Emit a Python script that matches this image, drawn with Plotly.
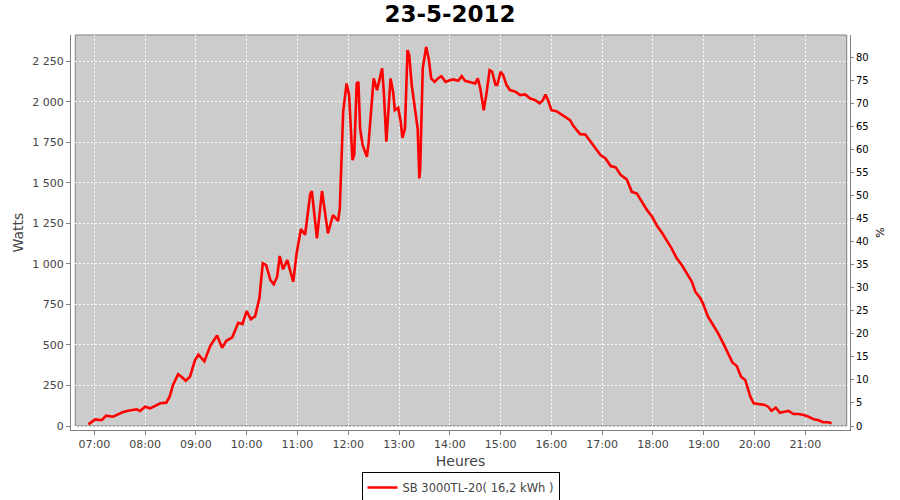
import plotly.graph_objects as go

day = "2012-05-23 "

times = [
    "06:53", "07:01", "07:05", "07:09", "07:14", "07:19", "07:22", "07:28", "07:34", "07:40",
    "07:46", "07:50", "07:54", "08:00", "08:06", "08:12", "08:18", "08:25", "08:29", "08:33",
    "08:39", "08:43", "08:48", "08:53", "08:59", "09:03", "09:10", "09:17", "09:25", "09:31",
    "09:36", "09:43", "09:50", "09:55", "10:00", "10:05", "10:10", "10:15", "10:19", "10:23",
    "10:28", "10:32", "10:36", "10:39", "10:43", "10:48", "10:55", "10:59", "11:04", "11:09",
    "11:15", "11:17", "11:23", "11:29", "11:36", "11:42", "11:48", "11:50", "11:54", "11:58",
    "12:01", "12:05", "12:07", "12:10", "12:12", "12:14", "12:17", "12:22", "12:24", "12:30",
    "12:34", "12:40", "12:42", "12:45", "12:50", "12:53", "12:55", "12:59", "13:02", "13:04",
    "13:07", "13:10", "13:12", "13:15", "13:20", "13:22", "13:24", "13:25", "13:28", "13:32",
    "13:35", "13:38", "13:42", "13:46", "13:50", "13:55", "14:00", "14:04", "14:10", "14:14",
    "14:18", "14:24", "14:30", "14:33", "14:36", "14:40", "14:43", "14:47", "14:50", "14:54",
    "14:56", "15:00", "15:03", "15:07", "15:11", "15:18", "15:23", "15:29", "15:35", "15:41",
    "15:46", "15:50", "15:53", "15:56", "16:00", "16:06", "16:10", "16:16", "16:22", "16:26",
    "16:34", "16:40", "16:46", "16:52", "16:58", "17:04", "17:10", "17:16", "17:22", "17:29",
    "17:35", "17:41", "17:47", "17:53", "17:59", "18:05", "18:11", "18:17", "18:22", "18:28",
    "18:34", "18:40", "18:46", "18:50", "18:56", "18:59", "19:05", "19:11", "19:17", "19:23",
    "19:29", "19:34", "19:39", "19:44", "19:49", "19:51", "19:55", "19:59", "20:04", "20:12",
    "20:16", "20:20", "20:25", "20:30", "20:35", "20:40", "20:46", "20:52", "20:58", "21:04",
    "21:10", "21:15", "21:21", "21:27", "21:31",
]

watts = [
    10, 41, 38, 37, 64, 62, 57, 72, 86, 94,
    99, 103, 93, 119, 109, 123, 140, 144, 181, 253,
    319, 304, 280, 304, 407, 440, 399, 495, 558, 483,
    526, 547, 637, 629, 709, 658, 678, 788, 1004, 993,
    901, 875, 921, 1049, 967, 1024, 890, 1065, 1215, 1180,
    1429, 1450, 1158, 1450, 1189, 1302, 1265, 1343, 1939, 2114,
    2042, 1641, 1672, 2114, 2124, 1836, 1733, 1661, 1744, 2145,
    2073, 2207, 2062, 1754, 2145, 2062, 1949, 1963, 1877, 1778,
    1836, 2320, 2289, 2104, 1919, 1836, 1528, 1590, 2207, 2340,
    2268, 2145, 2124, 2145, 2159, 2124, 2134, 2139, 2130, 2159,
    2130, 2124, 2114, 2145, 2083, 1949, 2042, 2196, 2186, 2104,
    2104, 2186, 2165, 2104, 2073, 2062, 2042, 2046, 2021, 2011,
    1991, 2011, 2046, 2011, 1949, 1943, 1929, 1912, 1888, 1851,
    1801, 1799, 1754, 1713, 1672, 1651, 1604, 1596, 1548, 1522,
    1445, 1435, 1384, 1332, 1291, 1234, 1189, 1137, 1096, 1035,
    993, 942, 890, 829, 788, 757, 674, 623, 572, 510,
    448, 391, 370, 304, 284, 253, 181, 140, 136, 130,
    119, 94, 113, 82, 88, 93, 74, 74, 68, 57,
    41, 37, 23, 23, 17,
]

hour_ticks = ["07:00", "08:00", "09:00", "10:00", "11:00", "12:00", "13:00",
              "14:00", "15:00", "16:00", "17:00", "18:00", "19:00", "20:00", "21:00"]
watt_ticks = [0, 250, 500, 750, 1000, 1250, 1500, 1750, 2000, 2250]
watt_labels = ["0", "250", "500", "750", "1 000", "1 250", "1 500", "1 750", "2 000", "2 250"]
pct_ticks = [0, 5, 10, 15, 20, 25, 30, 35, 40, 45, 50, 55, 60, 65, 70, 75, 80]

series_name = "SB 3000TL-20( 16,2 kWh )"
title_text = "23-5-2012"

# layout geometry (pixels in a 900x500 page)
W, H = 900, 500
L, R, T, B = 71, 850, 35, 430  # axis lines
PL, PR, PT, PB = 75.3, 846.7, 35, 426  # gray plot rectangle
pw, ph = R - L, B - T

fig = go.Figure()
fig.add_trace(go.Scatter(
    x=[day + t for t in times], y=watts, mode="lines",
    line=dict(color="#FF0000", width=2.6), name=series_name,
))
fig.add_trace(go.Scatter(x=[], y=[], yaxis="y2", showlegend=False, hoverinfo="skip"))

grid = dict(showgrid=True, gridcolor="rgba(255,255,255,0.9)", gridwidth=1, griddash="2px,2px")
axis_common = dict(showline=True, linecolor="#808080", linewidth=1, ticks="outside",
                   tickcolor="#808080", zeroline=False, automargin=False)

fig.update_layout(
    template="none",
    width=W, height=H,
    margin=dict(l=L, r=W - R, t=T, b=H - B, pad=0, autoexpand=False),
    paper_bgcolor="white", plot_bgcolor="rgba(0,0,0,0)",
    font=dict(family="DejaVu Sans", color="#444444"),
    title=dict(text="<b>" + title_text + "</b>", x=0.5, xanchor="center",
               y=1 - 14 / H, yanchor="middle", yref="container",
               font=dict(size=23, color="#000000", family="DejaVu Sans")),
    xaxis=dict(type="date", range=[day + "06:32:28", day + "21:52:45"],
               tickvals=[day + h for h in hour_ticks], ticktext=hour_ticks,
               ticklen=4, tickfont=dict(size=11, color="#444444"),
               title=dict(text="Heures", font=dict(size=14, color="#444444"), standoff=5),
               **grid, **axis_common),
    yaxis=dict(range=[-24.7, 2413], tickvals=watt_ticks, ticktext=watt_labels,
               ticklen=4, tickfont=dict(size=11, color="#444444"),
               title=dict(text="Watts", font=dict(size=14, color="#444444"), standoff=5),
               **grid, **axis_common),
    yaxis2=dict(overlaying="y", side="right", range=[-0.868, 84.84], tickvals=pct_ticks,
                ticklen=3, tickfont=dict(size=10, color="#000000"), showgrid=False,
                title=dict(text="%", font=dict(size=11, color="#000000"), standoff=8),
                **axis_common),
    showlegend=True,
    legend=dict(x=0.5, xanchor="center", y=-(487.5 - B) / ph, yanchor="middle",
                bgcolor="white", bordercolor="#000000", borderwidth=1,
                font=dict(size=11.5, color="#444444"), itemwidth=30,
                tracegroupgap=0),
    shapes=[dict(type="rect", xref="paper", yref="paper",
                 x0=(PL - L) / pw, x1=(PR - L) / pw, y0=(B - PB) / ph, y1=1,
                 fillcolor="#CCCCCC", line=dict(color="#808080", width=1), layer="below")],
)

fig.write_html("out.html", config={"displayModeBar": False},
               post_script="document.body.style.margin='0';document.body.style.overflow='hidden';")
